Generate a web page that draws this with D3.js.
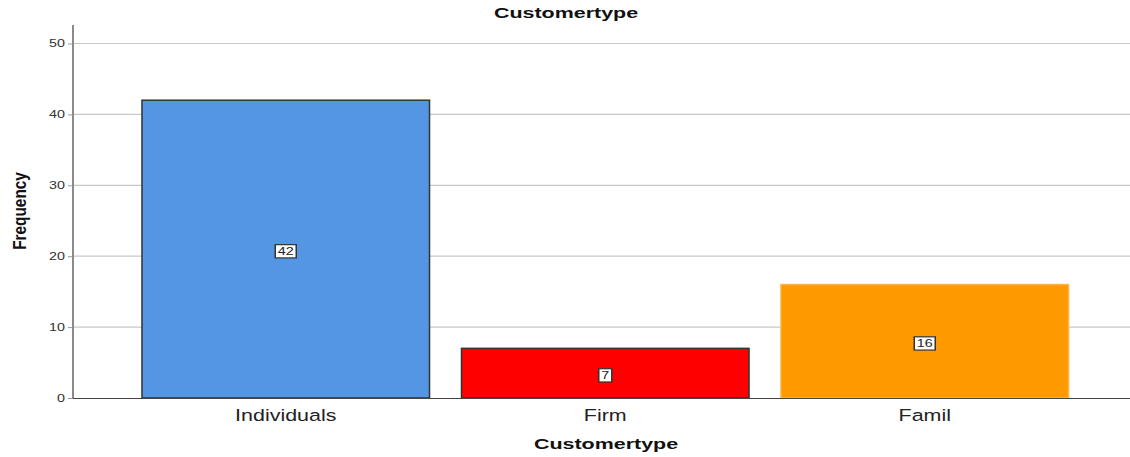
<!DOCTYPE html>
<html>
<head>
<meta charset="utf-8">
<script src="https://cdn.jsdelivr.net/npm/d3@7"></script>
<style>
  html, body { margin: 0; padding: 0; background: #fff; }
  svg { display: block; font-family: "Liberation Sans", Arial, sans-serif; }
</style>
</head>
<body>
<svg id="chart" width="1130" height="457"></svg>
<script>
// Customer type frequencies
const categories = ["Individuals", "Firm", "Famil"];
const frequencies = [42, 7, 16];
const barColors = ["#5495e4", "#ff0000", "#ff9900"];
const barStrokes = ["#333333", "#333333", "#ffb347"];
const yTicks = [0, 10, 20, 30, 40, 50];

const svg = d3.select("#chart");
const axisLeft = 73, axisRight = 1130;
const STRETCH = 1.3; // horizontally widened lettering

// place a text element at (x, y) with horizontal stretch
function placeText(sel, x, y, sx) {
  sel.attr("transform", function (d, i) {
    const px = typeof x === "function" ? x(d, i) : x;
    const py = typeof y === "function" ? y(d, i) : y;
    return `translate(${px},${py}) scale(${sx},1)`;
  });
}

const y = d3.scaleLinear().domain([0, 50]).range([398, 43.5]);
const x = d3.scaleBand().domain(categories).range([126, 1084.5])
  .paddingInner(0.1).paddingOuter(0.05);

// Horizontal grid lines
svg.append("g").selectAll("line")
  .data(yTicks.filter(d => d > 0))
  .join("line")
  .attr("x1", axisLeft).attr("x2", axisRight)
  .attr("y1", d => y(d)).attr("y2", d => y(d))
  .attr("stroke", "#c8c8c8").attr("stroke-width", 1.2);

// Y axis ticks and labels
const yAxis = d3.axisLeft(y).tickValues(yTicks).tickSize(5).tickFormat(() => "");
const gy = svg.append("g").attr("transform", `translate(${axisLeft},0)`).call(yAxis);
gy.select(".domain").remove();
gy.selectAll(".tick line").attr("stroke", "#999");
svg.append("g").selectAll("text").data(yTicks).join("text")
  .attr("text-anchor", "end").attr("dy", "0.36em")
  .attr("font-size", 11).attr("fill", "#333").text(d => d)
  .call(placeText, 65, d => y(d), STRETCH);
svg.append("line").attr("x1", axisLeft).attr("x2", axisLeft)
  .attr("y1", 25).attr("y2", 398).attr("stroke", "#8a8a8a").attr("stroke-width", 2);

// Bars
const rows = categories.map((c, i) => ({ c, v: frequencies[i], fill: barColors[i], stroke: barStrokes[i] }));
svg.append("g").selectAll("rect")
  .data(rows).join("rect")
  .attr("x", d => x(d.c)).attr("width", x.bandwidth())
  .attr("y", d => y(d.v)).attr("height", d => y(0) - y(d.v))
  .attr("fill", d => d.fill).attr("stroke", d => d.stroke).attr("stroke-width", 1.5);

// X baseline
svg.append("line").attr("x1", axisLeft).attr("x2", axisRight)
  .attr("y1", 398.5).attr("y2", 398.5).attr("stroke", "#444").attr("stroke-width", 1.2);

// Value labels in boxes at mid-height
const lab = svg.append("g").selectAll("g").data(rows).join("g")
  .attr("transform", d => `translate(${x(d.c) + x.bandwidth() / 2},${y(d.v / 2) + 1.5}) scale(1.25,1)`);
lab.append("text").text(d => d.v)
  .attr("text-anchor", "middle").attr("dy", "0.36em")
  .attr("font-size", 11.5).attr("fill", "#222");
lab.each(function () {
  const g = d3.select(this);
  const bb = g.select("text").node().getBBox();
  g.insert("rect", "text")
    .attr("x", bb.x - 2).attr("y", bb.y + 0.5)
    .attr("width", bb.width + 4).attr("height", bb.height)
    .attr("fill", "#fff").attr("stroke", "#333").attr("stroke-width", 1.2);
});

// X tick labels
svg.append("g").selectAll("text").data(categories).join("text")
  .attr("text-anchor", "middle").attr("font-size", 16.5).attr("fill", "#222")
  .text(d => d)
  .call(placeText, d => x(d) + x.bandwidth() / 2, 421, STRETCH);

// Titles
svg.append("text").attr("text-anchor", "middle")
  .attr("font-weight", "bold").attr("font-size", 15).attr("fill", "#111").text("Customertype")
  .call(placeText, 566, 18, 1.43);
svg.append("text").attr("text-anchor", "middle")
  .attr("font-weight", "bold").attr("font-size", 15).attr("fill", "#111").text("Customertype")
  .call(placeText, 606, 449, 1.43);
svg.append("text").attr("transform", "translate(26,211) rotate(-90) scale(0.81,1)")
  .attr("text-anchor", "middle").attr("font-weight", "bold").attr("font-size", 19)
  .attr("fill", "#111").text("Frequency");
</script>
</body>
</html>
